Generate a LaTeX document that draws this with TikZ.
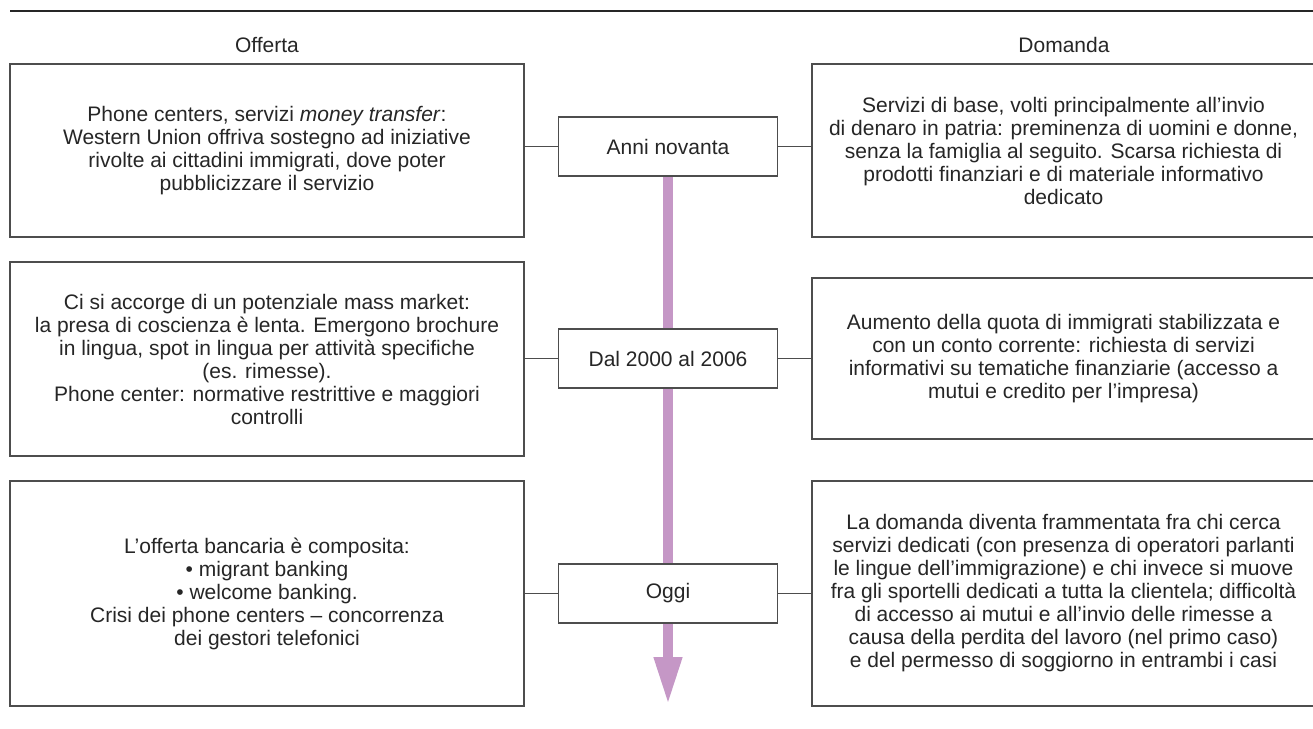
\documentclass[tikz,border=0pt]{standalone}
\usepackage{fontspec}
\setmainfont{Liberation Sans}
\usetikzlibrary{arrows.meta,backgrounds}
\definecolor{linegray}{HTML}{4D4D4D}
\definecolor{barpurple}{HTML}{C597C6}
\tikzset{
  txt/.style={font=\fontsize{21}{23}\selectfont, text=black!85},
  sidebox/.style={txt, draw=linegray, line width=1.3pt, fill=white, align=center, inner sep=0pt, minimum width=#1},
  sidebox/.default=514pt,
  timebox/.style={txt, draw=linegray, line width=1.3pt, fill=white, minimum width=219pt, minimum height=59pt, inner sep=0pt},
  conn/.style={draw=linegray, line width=1.3pt},
  head/.style={txt},
  bar/.style={draw=barpurple, line width=10pt, -{Triangle[length=48pt,width=26pt]}}
}
\begin{document}
\begin{tikzpicture}[x=1pt,y=-1pt]
\useasboundingbox (0,0) rectangle (1313,728);
\coordinate (ruleL) at (10,11);
\coordinate (ruleR) at (1313,11);
\draw[line width=1.5pt, draw=black!85] (ruleL) -- (ruleR);
\node[head] (offerta) at (267,45) {Offerta};
\node[head] (domanda) at (1064,45) {Domanda};

\node[sidebox, minimum height=173pt] (l1) at (267,150.5) {Phone centers, servizi \textit{money transfer}:\\ Western Union offriva sostegno ad iniziative\\ rivolte ai cittadini immigrati, dove poter\\ pubblicizzare il servizio};
\node[sidebox, minimum height=194pt] (l2) at (267,359) {Ci si accorge di un potenziale mass market:\\ la presa di coscienza è lenta. Emergono brochure\\ in lingua, spot in lingua per attività specifiche\\ (es. rimesse).\\ Phone center: normative restrittive e maggiori\\ controlli};
\node[sidebox, minimum height=225pt] (l3) at (267,593.5) {L’offerta bancaria è composita:\\ • migrant banking\\ • welcome banking.\\ Crisi dei phone centers – concorrenza\\ dei gestori telefonici};

\node[sidebox=503pt, minimum height=173pt] (r1) at (1063.5,150.5) {Servizi di base, volti principalmente all’invio\\ di denaro in patria: preminenza di uomini e donne,\\ senza la famiglia al seguito. Scarsa richiesta di\\ prodotti finanziari e di materiale informativo\\ dedicato};
\node[sidebox=503pt, minimum height=161pt] (r2) at (1063.5,358.5) {Aumento della quota di immigrati stabilizzata e\\ con un conto corrente: richiesta di servizi\\ informativi su tematiche finanziarie (accesso a\\ mutui e credito per l’impresa)};
\node[sidebox=503pt, minimum height=225pt] (r3) at (1063.5,593.5) {La domanda diventa frammentata fra chi cerca\\ servizi dedicati (con presenza di operatori parlanti\\ le lingue dell’immigrazione) e chi invece si muove\\ fra gli sportelli dedicati a tutta la clientela; difficoltà\\ di accesso ai mutui e all’invio delle rimesse a\\ causa della perdita del lavoro (nel primo caso)\\ e del permesso di soggiorno in entrambi i casi};

\node[timebox] (t1) at (668,146.5) {Anni novanta};
\node[timebox] (t2) at (668,358.5) {Dal 2000 al 2006};
\node[timebox] (t3) at (668,593.5) {Oggi};

\coordinate (tip) at (668,705);
\begin{scope}[on background layer]
\draw[bar] (t1.south) -- (tip);
\end{scope}

\draw[conn] (t1.west -| l1.east) -- (t1.west);
\draw[conn] (t1.east) -- (t1.east -| r1.west);
\draw[conn] (t2.west -| l2.east) -- (t2.west);
\draw[conn] (t2.east) -- (t2.east -| r2.west);
\draw[conn] (t3.west -| l3.east) -- (t3.west);
\draw[conn] (t3.east) -- (t3.east -| r3.west);
\end{tikzpicture}
\end{document}
